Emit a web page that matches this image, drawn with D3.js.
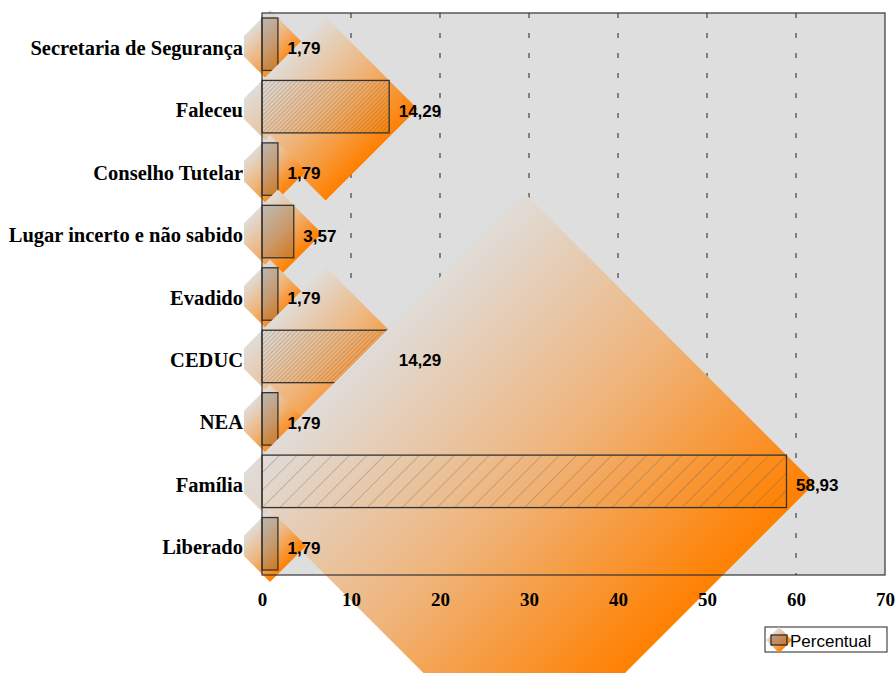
<!DOCTYPE html>
<html><head><meta charset="utf-8">
<script src="https://cdn.jsdelivr.net/npm/d3@7"></script>
<style>html,body{margin:0;padding:0;background:#fff;}svg{display:block;}</style>
</head><body>
<script>
const categories = ["Secretaria de Segurança","Faleceu","Conselho Tutelar","Lugar incerto e não sabido","Evadido","CEDUC","NEA","Família","Liberado"];
const values = [1.79,14.29,1.79,3.57,1.79,14.29,1.79,58.93,1.79];
const valueLabels = ["1,79","14,29","1,79","3,57","1,79","14,29","1,79","58,93","1,79"];
const xTicks = [0,10,20,30,40,50,60,70];
const gridTicks = [10,20,30,40,50,60];
const seriesName = "Percentual";

(function(){
const W = 896, H = 673;
const pL = 262, pR = 885, pT = 13, pB = 575;

const svg = d3.select("body").append("svg").attr("width", W).attr("height", H);
const defs = svg.append("defs");

const grad = defs.append("linearGradient").attr("id","dg")
  .attr("x1",0).attr("y1",0).attr("x2",1).attr("y2",1);
grad.append("stop").attr("offset",0.25).attr("stop-color","#e0dcd8");
grad.append("stop").attr("offset",0.5).attr("stop-color","#efb47a");
grad.append("stop").attr("offset",0.75).attr("stop-color","#ff8000");

defs.append("clipPath").attr("id","clipL").append("rect")
  .attr("x",244).attr("y",0).attr("width",W).attr("height",H);

const x = d3.scaleLinear().domain([0,70]).range([pL,pR]);
const y = d3.scaleBand().domain(categories).range([pT,pB]).paddingInner(0.16).paddingOuter(0.08);

svg.append("rect").attr("x",pL).attr("y",pT).attr("width",pR-pL).attr("height",pB-pT).attr("fill","#dedede");

svg.append("g").selectAll("line").data(gridTicks).join("line")
  .attr("x1",d=>x(d)).attr("x2",d=>x(d)).attr("y1",pT).attr("y2",pB)
  .attr("stroke","#222").attr("stroke-width",1).attr("stroke-dasharray","5,15");

const data = categories.map((c,i)=>({c, v:values[i], lab:valueLabels[i], i}));

const marks = svg.append("g");
data.forEach(d=>{
  const x0 = x(0), x1 = x(d.v);
  const w = x1-x0, h = y.bandwidth();
  const cx = (x0+x1)/2, cy = y(d.c)+h/2+2;
  const r = (w+h)/2+2;
  marks.append("path")
    .attr("clip-path","url(#clipL)")
    .attr("d",`M${cx},${cy-r}L${cx+r},${cy}L${cx},${cy+r}L${cx-r},${cy}Z`)
    .attr("fill","url(#dg)");
  const s = w/30, p = s/Math.SQRT2;
  const pat = defs.append("pattern").attr("id","hp"+d.i)
    .attr("patternUnits","userSpaceOnUse").attr("width",p).attr("height",p)
    .attr("patternTransform","rotate(45)");
  pat.append("line").attr("x1",0).attr("y1",0).attr("x2",0).attr("y2",p)
    .attr("stroke","#4a4a4a").attr("stroke-width",Math.min(0.7,p)).attr("stroke-opacity",p<1?0.5:0.75);
  marks.append("rect").attr("x",x0).attr("y",y(d.c)).attr("width",w).attr("height",h)
    .attr("fill",`url(#hp${d.i})`).attr("stroke","#333").attr("stroke-width",1.3);
});

svg.append("rect").attr("x",pL).attr("y",pT).attr("width",pR-pL).attr("height",pB-pT)
  .attr("fill","none").attr("stroke","#333").attr("stroke-width",1.2);

svg.append("g").selectAll("text").data(data).join("text")
  .attr("x",d=>x(d.v)+9.5).attr("y",d=>y(d.c)+y.bandwidth()/2+10)
  .attr("font-family","Liberation Sans, Arial, sans-serif").attr("font-weight","bold").attr("font-size",17)
  .attr("fill","#000").text(d=>d.lab);

const yAxis = svg.append("g").attr("transform",`translate(${pL},4)`)
  .call(d3.axisLeft(y).tickSize(0).tickPadding(19));
yAxis.select(".domain").remove();
yAxis.selectAll("text").attr("font-family","Liberation Serif, 'Times New Roman', serif")
  .attr("font-weight","bold").attr("font-size",20.5).attr("fill","#000");

const xAxis = svg.append("g").attr("transform",`translate(0,${pB})`)
  .call(d3.axisBottom(x).tickValues(xTicks).tickSize(0).tickPadding(18).tickFormat(d3.format("d")));
xAxis.select(".domain").remove();
xAxis.selectAll("text").attr("font-family","Liberation Serif, 'Times New Roman', serif")
  .attr("font-weight","bold").attr("font-size",19).attr("fill","#000");

const lg = svg.append("g");
lg.append("rect").attr("x",765).attr("y",627).attr("width",122).attr("height",25)
  .attr("fill","#fff").attr("stroke","#222").attr("stroke-width",1);
const lcx = 779, lcy = 640, lr = 13;
lg.append("path").attr("d",`M${lcx},${lcy-lr}L${lcx+lr},${lcy}L${lcx},${lcy+lr}L${lcx-lr},${lcy}Z`).attr("fill","url(#dg)");
lg.append("rect").attr("x",771).attr("y",635).attr("width",16).attr("height",10)
  .attr("fill","#a0734a").attr("fill-opacity",0.6).attr("stroke","#222").attr("stroke-width",1.2);
lg.append("text").attr("x",790).attr("y",647).attr("font-family","Liberation Sans, Arial, sans-serif")
  .attr("font-size",17).attr("fill","#000").text(seriesName);
})();
</script>
</body></html>
